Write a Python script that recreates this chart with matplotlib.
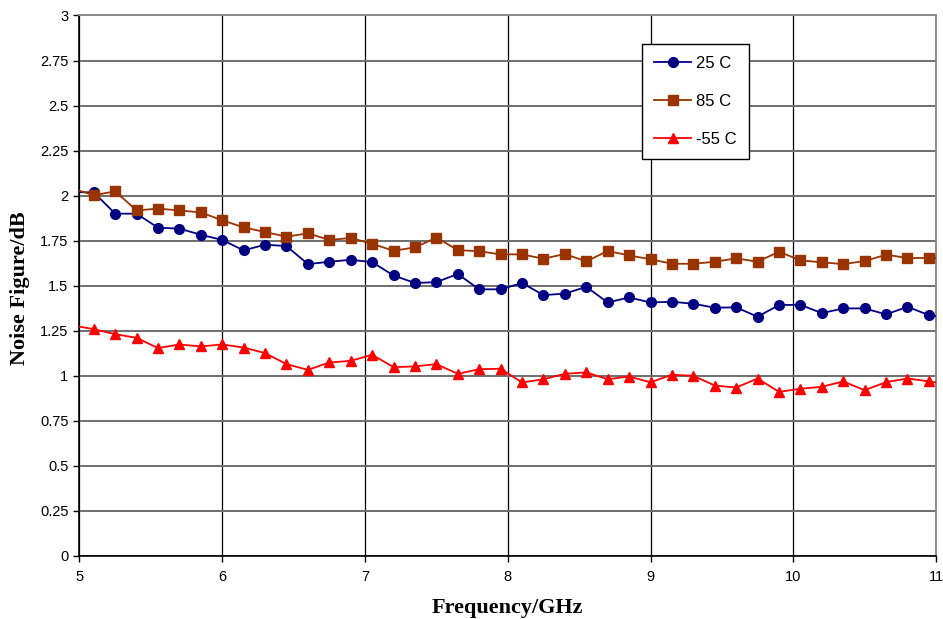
import matplotlib
matplotlib.use("Agg")
from matplotlib import pyplot as plt

# frequency points (GHz); the first and last lie just outside the plotted range
freq = [4.95, 5.10, 5.25, 5.40, 5.55, 5.70, 5.85, 6.00, 6.15, 6.30, 6.45,
        6.60, 6.75, 6.90, 7.05, 7.20, 7.35, 7.50, 7.65, 7.80, 7.95,
        8.10, 8.25, 8.40, 8.55, 8.70, 8.85, 9.00, 9.15, 9.30, 9.45,
        9.60, 9.75, 9.90, 10.05, 10.20, 10.35, 10.50, 10.65, 10.80, 10.95,
        11.10]

nf_25c = [2.02, 2.018, 1.90, 1.90, 1.822, 1.817, 1.783, 1.754, 1.696, 1.728, 1.72,
          1.62, 1.633, 1.644, 1.631, 1.557, 1.515, 1.52, 1.565, 1.48, 1.48,
          1.515, 1.448, 1.456, 1.494, 1.407, 1.435, 1.407, 1.411, 1.40, 1.378,
          1.38, 1.328, 1.393, 1.394, 1.348, 1.374, 1.374, 1.341, 1.383, 1.337,
          1.32]

nf_85c = [2.04, 2.002, 2.024, 1.918, 1.928, 1.918, 1.907, 1.863, 1.824, 1.798, 1.772,
          1.791, 1.754, 1.765, 1.733, 1.694, 1.713, 1.767, 1.698, 1.691, 1.674,
          1.674, 1.65, 1.676, 1.635, 1.693, 1.668, 1.647, 1.622, 1.622, 1.633,
          1.652, 1.633, 1.689, 1.641, 1.63, 1.62, 1.637, 1.672, 1.654, 1.654,
          1.655]

nf_m55c = [1.28, 1.259, 1.231, 1.211, 1.154, 1.174, 1.163, 1.174, 1.157, 1.126, 1.065,
           1.033, 1.074, 1.083, 1.117, 1.048, 1.052, 1.065, 1.011, 1.037, 1.039,
           0.963, 0.981, 1.011, 1.019, 0.981, 0.996, 0.964, 1.006, 1.0, 0.946,
           0.935, 0.985, 0.911, 0.928, 0.939, 0.969, 0.92, 0.965, 0.985, 0.969,
           0.951]

y_ticks = [0, 0.25, 0.5, 0.75, 1, 1.25, 1.5, 1.75, 2, 2.25, 2.5, 2.75, 3]
y_labels = ["0", "0.25", "0.5", "0.75", "1", "1.25", "1.5", "1.75", "2",
            "2.25", "2.5", "2.75", "3"]
x_ticks = [5, 6, 7, 8, 9, 10, 11]

plt.rcParams['font.family'] = ['Liberation Sans', 'DejaVu Sans']

fig = plt.figure(figsize=(9.43, 6.19), dpi=100)
ax = fig.add_axes([0.0843, 0.1018, 0.9083, 0.8732])

ax.plot(freq, nf_25c, color='#000080', marker='o', markersize=7,
        linewidth=1.3, label='25 C', zorder=3)
ax.plot(freq, nf_85c, color='#993300', marker='s', markersize=6.5,
        linewidth=1.3, label='85 C', zorder=3)
ax.plot(freq, nf_m55c, color='#FF0000', marker='^', markersize=7.5,
        linewidth=1.3, label='-55 C', zorder=3)

ax.set_xlim(5, 11)
ax.set_ylim(0, 3)
ax.set_xticks(x_ticks)
ax.set_yticks(y_ticks)
ax.set_yticklabels(y_labels)
ax.tick_params(axis='both', labelsize=10.5, length=4, width=1, color='black',
               direction='out')
ax.tick_params(axis='y', pad=4)
ax.tick_params(axis='x', pad=6)

# horizontal grid grey and heavier, vertical grid thin black
ax.grid(True, axis='y', color='#6e6e6e', linewidth=1.4, zorder=1)
ax.grid(True, axis='x', color='black', linewidth=0.9, zorder=1)
ax.set_axisbelow(True)

for side in ['left', 'bottom']:
    ax.spines[side].set_color('black')
    ax.spines[side].set_linewidth(1.2)
for side in ['top', 'right']:
    ax.spines[side].set_color('#8a8a8a')
    ax.spines[side].set_linewidth(1.4)

ax.set_xlabel("Frequency/GHz", family=['Liberation Serif'], fontweight='bold',
              fontsize=16, va='center', ha='center')
ax.xaxis.set_label_coords(0.5, -0.0962)
ax.set_ylabel("Noise Figure/dB", family=['Liberation Serif'], fontweight='bold',
              fontsize=16, va='center', ha='center')
ax.yaxis.set_label_coords(-0.0695, 0.496)

leg = ax.legend(loc='upper left', bbox_to_anchor=(0.657, 0.948), fontsize=12,
                frameon=True, fancybox=False, edgecolor='black',
                handlelength=2.2, labelspacing=1.4, borderpad=0.72,
                handletextpad=0.3, borderaxespad=0)
leg.get_frame().set_linewidth(1.0)
leg.get_frame().set_alpha(1)

fig.savefig("out.png", dpi=100)
